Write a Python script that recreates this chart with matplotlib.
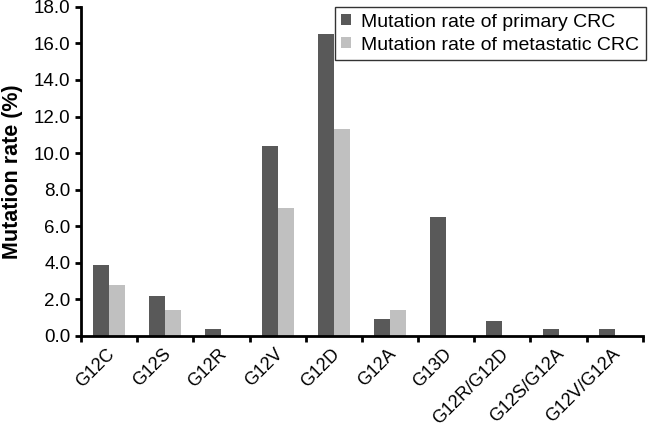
import numpy as np
import matplotlib.pyplot as plt

plt.rcParams["font.family"] = "Liberation Sans"

# Mutation types and rates
mutations = ["G12C", "G12S", "G12R", "G12V", "G12D", "G12A", "G13D",
             "G12R/G12D", "G12S/G12A", "G12V/G12A"]
primary = [3.9, 2.2, 0.4, 10.4, 16.5, 0.9, 6.5, 0.8, 0.4, 0.4]
metastatic = [2.8, 1.4, 0.0, 7.0, 11.3, 1.4, 0.0, 0.0, 0.0, 0.0]

fig = plt.figure(figsize=(6.48, 4.29), dpi=100)
ax = fig.add_axes([0.125, 0.217, 0.867, 0.767])

x = np.arange(len(mutations))
w = 0.285
ax.bar(x - w / 2, primary, w, color="#595959", label="Mutation rate of primary CRC")
ax.bar(x + w / 2, metastatic, w, color="#c0c0c0", label="Mutation rate of metastatic CRC")

ax.set_xlim(-0.5, len(mutations) - 0.5)
ax.set_ylim(0, 18)
ax.set_yticks(np.arange(0, 18.1, 2))
ax.set_yticklabels(["%.1f" % v for v in np.arange(0, 18.1, 2)], fontsize=13.5)

# ticks at category boundaries, labels at centres
ax.set_xticks(np.arange(-0.5, len(mutations)), minor=False)
ax.set_xticklabels([])
ax.set_xticks(x - 0.05, minor=True)
ax.set_xticklabels(mutations, minor=True, rotation=45, ha="right",
                   rotation_mode="anchor", fontsize=13)
ax.tick_params(axis="x", which="minor", length=0, pad=7)
ax.tick_params(axis="both", which="major", direction="out", length=4, width=2)

for s in ["top", "right"]:
    ax.spines[s].set_visible(False)
for s in ["left", "bottom"]:
    ax.spines[s].set_linewidth(2)

ax.set_ylabel("Mutation rate (%)", fontsize=15.5, fontweight="bold", labelpad=8)

leg = ax.legend(loc="upper right", fontsize=14, frameon=True, fancybox=False,
                edgecolor="black", handlelength=0.5, handleheight=0.5,
                handletextpad=0.5, borderpad=0.35, labelspacing=0.3,
                borderaxespad=0.0, bbox_to_anchor=(1.005, 1.0))
leg.get_frame().set_linewidth(1.0)

fig.savefig("out.png", dpi=100)
